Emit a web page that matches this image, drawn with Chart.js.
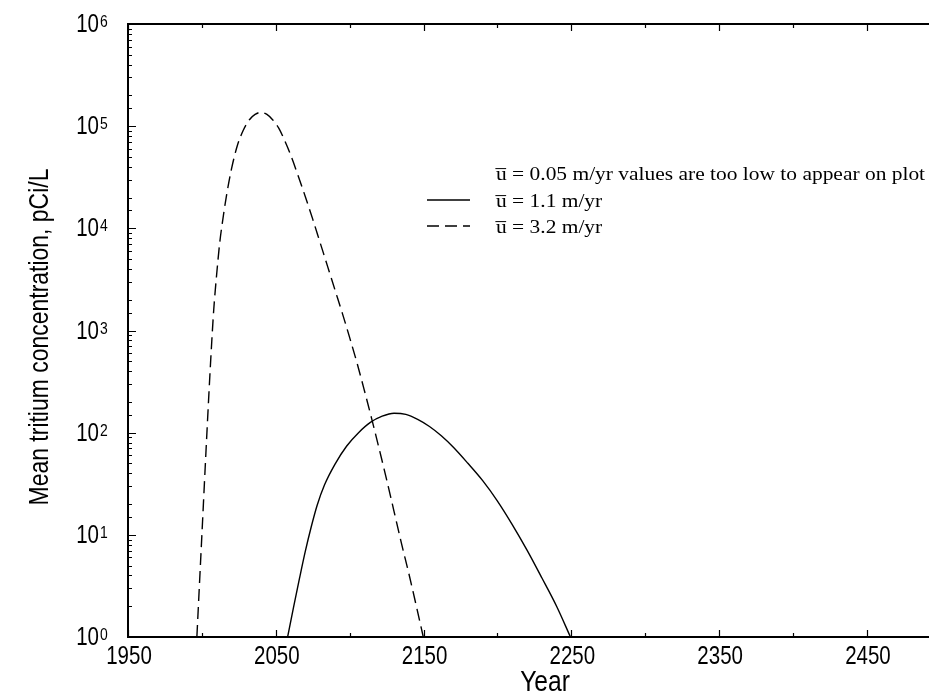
<html>
<head>
<meta charset="UTF-8">
<title>Mean tritium concentration by year</title>
<script src="https://cdn.jsdelivr.net/npm/chart.js@4.4.1/dist/chart.umd.min.js"></script>
<style>
  body { margin: 0; background: #fff; overflow: hidden; }
  canvas { display: block; }
</style>
</head>
<body>
<canvas id="tritiumChart" width="929" height="698"></canvas>
<script>
// u = 3.2 m/yr (dashed)
var fastYears  = [1996.6, 2000.0, 2003.4, 2006.0, 2008.0, 2010.0, 2012.0, 2014.5, 2017.0, 2020.0,
                  2024.0, 2028.0, 2032.0, 2036.0, 2040.0, 2044.0, 2048.0, 2052.0, 2056.0, 2060.0,
                  2065.0, 2070.0, 2075.0, 2080.0, 2085.0, 2090.0, 2095.0, 2100.0, 2105.0, 2110.0,
                  2115.0, 2120.0, 2125.0, 2130.0, 2135.0, 2140.0, 2145.0, 2149.8];
var fastValues = [1, 10, 100, 525, 1585, 3550, 7080, 13200, 22400, 38000,
                  64600, 91200, 115000, 130300, 136500, 130300, 115000, 95500, 72400, 52500,
                  33100, 20400, 12300, 7240, 4270, 2510, 1480, 851, 479, 257,
                  135, 69, 34.7, 17, 8.3, 4.2, 2.04, 1];

// u = 1.1 m/yr (solid)
var slowYears  = [2058.0, 2062.0, 2066.0, 2070.0, 2074.0, 2078.0, 2083.0, 2090.0, 2098.0, 2106.0,
                  2114.0, 2122.0, 2130.0, 2138.0, 2146.0, 2154.0, 2162.0, 2170.0, 2180.0, 2190.0,
                  2200.0, 2210.0, 2220.0, 2230.0, 2240.0, 2249.4];
var slowValues = [1, 1.95, 3.72, 6.92, 12.0, 19.5, 30.9, 49.0, 74.1, 100,
                  126, 145, 155, 151, 135, 115, 93.3, 72.4, 50.1, 33.9,
                  21.4, 12.6, 7.08, 3.80, 2.00, 1];

var xLabels = [1950, 2050, 2150, 2250, 2350, 2450];
var legendLines = [
  'u\u0305 = 0.05 m/yr values are too low to appear on plot',
  'u\u0305 = 1.1 m/yr',
  'u\u0305 = 3.2 m/yr'
];

var sans = '"Liberation Sans", Arial, Helvetica, sans-serif';
var serif = '"Liberation Serif", "Times New Roman", serif';

function pairs(xs, ys) {
  return xs.map(function(x, i) { return { x: x, y: ys[i] }; });
}

function isDecade(v) {
  var e = Math.round(Math.log10(v));
  return Math.abs(v - Math.pow(10, e)) < 1e-6 * v;
}

// text squeezed horizontally, like a narrow Helvetica
function narrowText(ctx, txt, x, y, size, align, sx, rot) {
  ctx.save();
  ctx.translate(x, y);
  if (rot) ctx.rotate(rot);
  ctx.scale(sx, 1);
  ctx.font = size + 'px ' + sans;
  ctx.textAlign = align;
  ctx.textBaseline = 'alphabetic';
  ctx.fillText(txt, 0, 0);
  ctx.restore();
}

// frame, inward ticks, tick labels, axis titles and the key
var plotDecor = {
  id: 'plotDecor',
  afterDraw: function(chart) {
    var ctx = chart.ctx, a = chart.chartArea;
    var x = chart.scales.x, y = chart.scales.y;
    ctx.save();
    ctx.strokeStyle = '#000';
    ctx.fillStyle = '#000';

    ctx.lineWidth = 2;
    ctx.beginPath();
    ctx.moveTo(a.right, a.top);
    ctx.lineTo(a.left, a.top);
    ctx.lineTo(a.left, a.bottom);
    ctx.lineTo(a.right, a.bottom);
    ctx.stroke();

    ctx.lineWidth = 1.2;
    ctx.beginPath();
    x.ticks.forEach(function(t) {
      if (t.value % 50 !== 0) return;
      var px = Math.round(x.getPixelForValue(t.value)) + 0.5;
      var len = xLabels.indexOf(t.value) >= 0 ? 7 : 4;
      ctx.moveTo(px, a.bottom); ctx.lineTo(px, a.bottom - len);
      ctx.moveTo(px, a.top); ctx.lineTo(px, a.top + len);
    });
    y.ticks.forEach(function(t) {
      var py = Math.round(y.getPixelForValue(t.value)) + 0.5;
      ctx.moveTo(a.left, py); ctx.lineTo(a.left + (isDecade(t.value) ? 8 : 4), py);
    });
    ctx.stroke();

    // year labels
    xLabels.forEach(function(v) {
      narrowText(ctx, String(v), x.getPixelForValue(v) + 1, 664, 25, 'center', 0.82);
    });

    // 10^n labels
    y.ticks.forEach(function(t) {
      if (!isDecade(t.value)) return;
      var e = Math.round(Math.log10(t.value));
      var py = y.getPixelForValue(t.value);
      narrowText(ctx, '10', 99, py + 8, 25, 'right', 0.82);
      narrowText(ctx, String(e), 100, py + 3, 17, 'left', 0.82);
    });

    // axis titles
    narrowText(ctx, 'Year', 545, 691, 30, 'center', 0.82);
    narrowText(ctx, 'Mean tritium concentration, pCi/L', 48, 337, 28, 'center', 0.82, -Math.PI / 2);

    // key
    var base = [180, 207, 233];
    legendLines.forEach(function(txt, i) {
      ctx.save();
      ctx.translate(496, base[i]);
      ctx.scale(1.1, 1);
      ctx.font = '19.5px ' + serif;
      ctx.textAlign = 'left';
      ctx.fillText(txt, 0, 0);
      ctx.restore();
      if (i === 0) return;
      var ds = chart.data.datasets[i - 1];
      ctx.beginPath();
      ctx.lineWidth = ds.borderWidth;
      ctx.setLineDash(ds.borderDash || []);
      ctx.moveTo(427, base[i] - 7);
      ctx.lineTo(470, base[i] - 7);
      ctx.stroke();
      ctx.setLineDash([]);
    });
    ctx.restore();
  }
};

var ctx = document.getElementById('tritiumChart').getContext('2d');
var chart = new Chart(ctx, {
  type: 'line',
  data: {
    datasets: [{
      label: 'u = 1.1 m/yr',
      data: pairs(slowYears, slowValues),
      borderColor: '#000',
      borderWidth: 1.4,
      pointRadius: 0,
      fill: false,
      cubicInterpolationMode: 'monotone'
    }, {
      label: 'u = 3.2 m/yr',
      data: pairs(fastYears, fastValues),
      borderColor: '#000',
      borderWidth: 1.4,
      borderDash: [12, 6],
      pointRadius: 0,
      fill: false,
      cubicInterpolationMode: 'monotone'
    }]
  },
  options: {
    responsive: false,
    animation: false,
    layout: { padding: { top: 24, right: 0, left: 0, bottom: 0 } },
    plugins: { legend: { display: false }, tooltip: { enabled: false } },
    scales: {
      x: {
        type: 'linear',
        min: 1950,
        max: 2492,
        border: { display: false },
        grid: { display: false, drawTicks: false },
        ticks: { stepSize: 50, includeBounds: false, display: false },
        afterFit: function(s) { s.height = 61; }
      },
      y: {
        type: 'logarithmic',
        min: 1,
        max: 1e6,
        border: { display: false },
        grid: { display: false, drawTicks: false },
        ticks: { display: false },
        afterFit: function(s) { s.width = 128; }
      }
    }
  },
  plugins: [plotDecor]
});
</script>
</body>
</html>
